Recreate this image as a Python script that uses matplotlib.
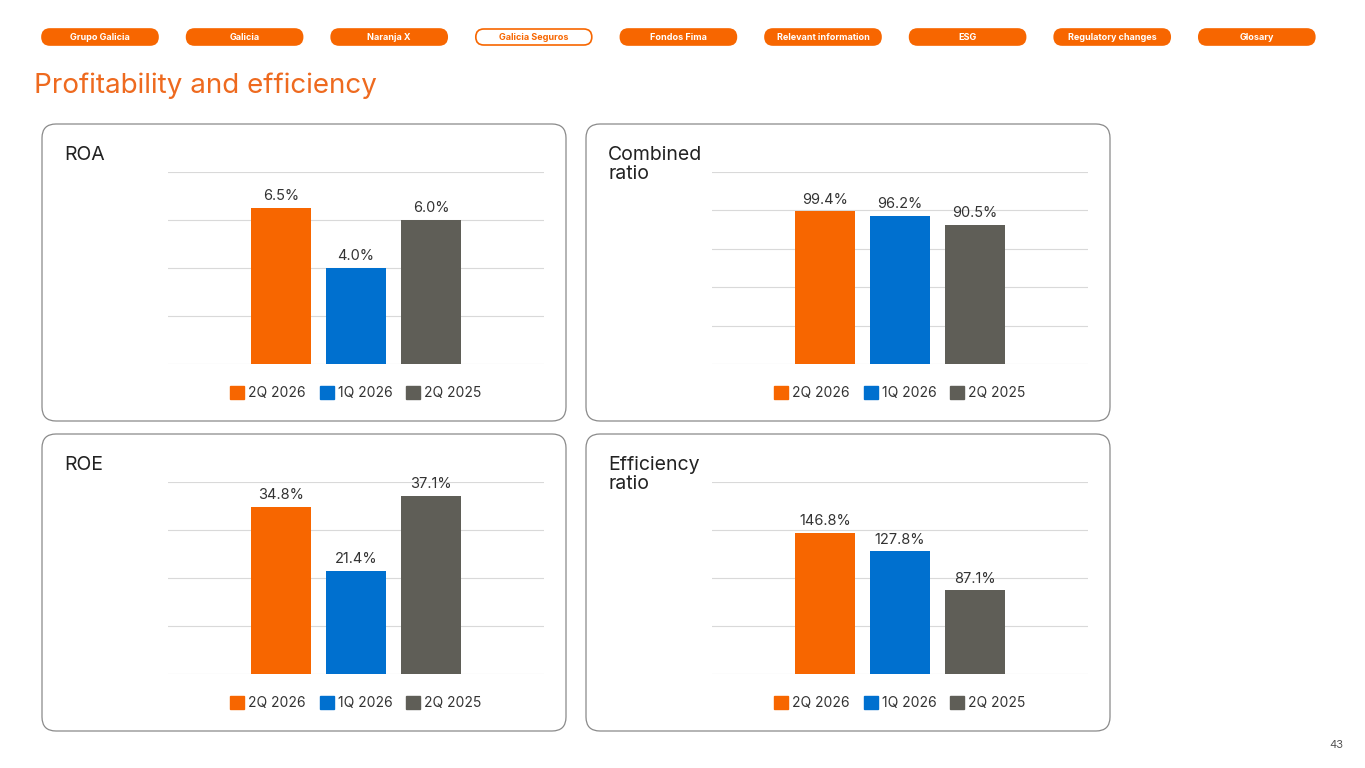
import matplotlib.pyplot as plt
from matplotlib.patches import FancyBboxPatch, Patch

W, H = 1365, 768
ORANGE = '#F76600'
BLUE = '#0070CF'
GRAY = '#5F5E57'

periods = ['2Q 2026', '1Q 2026', '2Q 2025']
colors = [ORANGE, BLUE, GRAY]

# name, values, y max, y step
panels = [
    ('ROA', [6.5, 4.0, 6.0], 8, 2),
    ('Combined\nratio', [99.4, 96.2, 90.5], 125, 25),
    ('ROE', [34.8, 21.4, 37.1], 40, 10),
    ('Efficiency\nratio', [146.8, 127.8, 87.1], 200, 50),
]

nav = ['Grupo Galicia', 'Galicia', 'Naranja X', 'Galicia Seguros', 'Fondos Fima',
       'Relevant information', 'ESG', 'Regulatory changes', 'Glosary']
active = 'Galicia Seguros'

plt.rcParams['font.family'] = ['Inter', 'DejaVu Sans']
fig = plt.figure(figsize=(W / 100, H / 100), dpi=100)
bg = fig.add_axes([0, 0, 1, 1])
bg.set_xlim(0, W)
bg.set_ylim(H, 0)
bg.axis('off')

# nav bar
for i, name in enumerate(nav):
    x0 = 42 + i * 144.6
    on = name == active
    bg.add_patch(FancyBboxPatch((x0, 29), 116, 16, boxstyle='round,pad=0,rounding_size=8',
                                fc='white' if on else ORANGE, ec=ORANGE, lw=1.2))
    bg.text(x0 + 58, 37.5, name, ha='center', va='center', fontsize=6.5,
            color=ORANGE if on else 'white', fontweight='bold')

bg.text(34, 86, 'Profitability and efficiency', fontsize=20, color='#EE6A1F', va='center')
bg.text(1343, 745, '43', fontsize=8, color='#555555', ha='right', va='center')

boxes = [(42, 124), (586, 124), (42, 434), (586, 434)]
for (name, vals, ymax, step), (bx, by) in zip(panels, boxes):
    bg.add_patch(FancyBboxPatch((bx, by), 524, 297, boxstyle='round,pad=0,rounding_size=14',
                                fc='white', ec='#8A8A8A', lw=0.9))
    bg.text(bx + 22, by + 22, name, fontsize=14, color='#222222', va='top', linespacing=1.05)

    ax_x0 = bx + 126
    ax_y0 = by + 48
    ax = fig.add_axes([ax_x0 / W, 1 - (ax_y0 + 192) / H, 376 / W, 192 / H])
    ax.bar(range(3), vals, width=0.8, color=colors)
    for i, v in enumerate(vals):
        ax.text(i, v + ymax * 0.025, f'{v:.1f}%', ha='center', va='bottom',
                fontsize=10.5, color='#333333')
    ax.set_xlim(-1.5, 3.5)
    ax.set_ylim(0, ymax)
    ax.set_yticks(range(0, ymax + 1, step))
    ax.grid(axis='y', color='#D9D9D9', lw=0.8)
    ax.set_axisbelow(True)
    ax.tick_params(left=False, bottom=False, labelleft=False, labelbottom=False)
    for s in ax.spines.values():
        s.set_visible(False)
    handles = [Patch(color=c, label=p) for c, p in zip(colors, periods)]
    ax.legend(handles=handles, loc='upper center', bbox_to_anchor=(0.5, -0.05), ncol=3,
              frameon=False, fontsize=10, handlelength=1.0, handleheight=1.0,
              handletextpad=0.3, columnspacing=1.0, labelcolor='#333333')

fig.savefig('out.png', dpi=100)
